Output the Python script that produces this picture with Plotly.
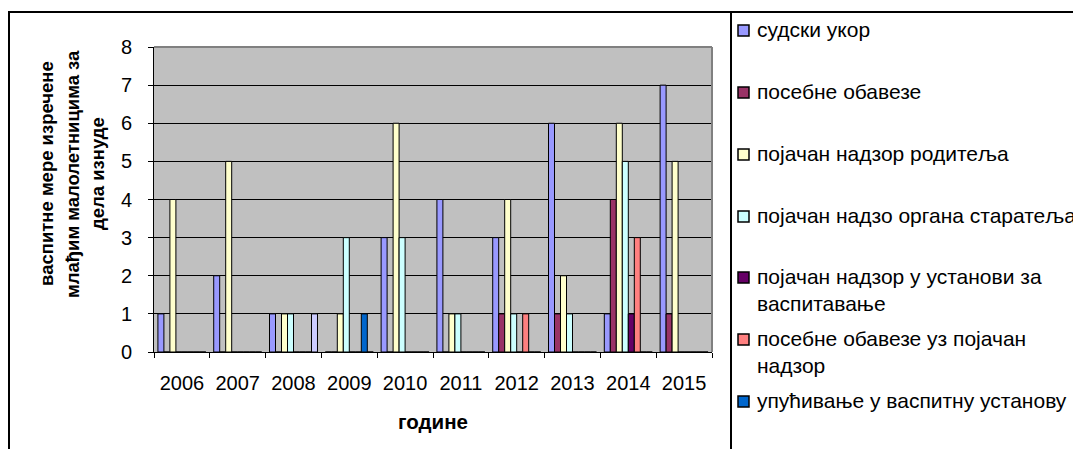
import plotly.graph_objects as go

# page body has a small margin, so the figure is kept a bit smaller than the window
OFF = 8
W, H = 1081 - 2 * OFF, 457 - 2 * OFF

years = ['2006', '2007', '2008', '2009', '2010', '2011', '2012', '2013', '2014', '2015']

sudski_ukor = [1, 2, 1, 0, 3, 4, 3, 6, 1, 7]
posebne_obaveze = [0, 0, 0, 0, 0, 0, 1, 1, 4, 1]
nadzor_roditelja = [4, 5, 1, 1, 6, 1, 4, 2, 6, 5]
nadzor_starateljstva = [0, 0, 1, 3, 3, 1, 1, 1, 5, 0]
nadzor_u_ustanovi = [0, 0, 0, 0, 0, 0, 0, 0, 1, 0]
obaveze_uz_nadzor = [0, 0, 0, 0, 0, 0, 1, 0, 3, 0]
upucivanje_ustanova = [0, 0, 0, 1, 0, 0, 0, 0, 0, 0]
upucivanje_dom = [0, 0, 1, 0, 0, 0, 0, 0, 0, 0]

series_names = [
    'судски укор',
    'посебне обавезе',
    'појачан надзор родитеља',
    'појачан надзо органа старатеља',
    'појачан надзор у установи за васпитавање',
    'посебне обавезе уз појачан надзор',
    'упућивање у васпитну установу',
    'упућивање у васпитно-поправни дом',
]
legend_labels = [
    'судски укор',
    'посебне обавезе',
    'појачан надзор родитеља',
    'појачан надзо органа старатеља',
    'појачан надзор у установи за<br>васпитавање',
    'посебне обавезе уз појачан<br>надзор',
    'упућивање у васпитну установу',
    'упућивање у васпитно-поправни дом',
]
series_values = [sudski_ukor, posebne_obaveze, nadzor_roditelja, nadzor_starateljstva,
                 nadzor_u_ustanovi, obaveze_uz_nadzor, upucivanje_ustanova, upucivanje_dom]
colors = ['#9999FF', '#993366', '#FFFFCC', '#CCFFFF', '#660066', '#FF8080', '#0066CC', '#CCCCFF']

y_title_lines = ['васпитне мере изречене', 'млађим малолетницима за', 'дела изнуде']
x_title = 'године'

FONT = 'Liberation Sans, Arial, sans-serif'


# screen pixel -> paper coordinate
def px(x):
    return (x - OFF) / W


def py(y):
    return 1 - (y - OFF) / H


fig = go.Figure()
for name, vals, col in zip(series_names, series_values, colors):
    fig.add_trace(go.Bar(
        x=years, y=vals, name=name,
        marker=dict(color=col, line=dict(color='black', width=1)),
    ))

# plot area on screen: 154..712 x 47..352 px
x0, x1, y_top, y_bot = 154, 712, 47, 352

fig.update_layout(
    width=W, height=H, autosize=False,
    margin=dict(l=0, r=0, t=0, b=0, pad=0),
    paper_bgcolor='white',
    plot_bgcolor='#C0C0C0',
    barmode='group',
    bargap=0.14,
    bargroupgap=0,
    showlegend=False,
    font=dict(family=FONT, size=20, color='black'),
    xaxis=dict(
        domain=[px(x0), px(x1)],
        type='category',
        automargin=False,
        showgrid=False,
        showline=True, linecolor='black', linewidth=1,
        ticks='outside', ticklen=5, tickcolor='black', tickson='boundaries',
        ticklabelstandoff=13,
        fixedrange=True,
    ),
    yaxis=dict(
        domain=[py(y_bot), py(y_top)],
        range=[0, 8],
        dtick=1,
        automargin=False,
        showgrid=True, gridcolor='black', gridwidth=1,
        showline=True, linecolor='black', linewidth=1,
        ticks='outside', ticklen=5, tickcolor='black',
        ticklabelstandoff=12,
        zeroline=False,
        fixedrange=True,
    ),
)

shapes = [
    # outer chart border
    dict(type='rect', xref='paper', yref='paper', x0=px(9), x1=px(1100), y0=py(480), y1=py(12),
         line=dict(color='black', width=2), fillcolor='rgba(0,0,0,0)', layer='above'),
    # legend box left edge
    dict(type='line', xref='paper', yref='paper', x0=px(731), x1=px(731), y0=py(12), y1=py(480),
         line=dict(color='black', width=2)),
    # grey plot-area frame (top and right)
    dict(type='line', xref='paper', yref='paper', x0=px(x0), x1=px(x1), y0=py(y_top), y1=py(y_top),
         line=dict(color='#808080', width=2), layer='above'),
    dict(type='line', xref='paper', yref='paper', x0=px(x1), x1=px(x1), y0=py(y_top), y1=py(y_bot),
         line=dict(color='#808080', width=2), layer='above'),
]

annotations = []
for line, lx in zip(y_title_lines, [46, 72, 97]):
    annotations.append(dict(text='<b>%s</b>' % line, xref='paper', yref='paper',
                            x=px(lx), y=py(174), xanchor='center', yanchor='middle',
                            textangle=-90, showarrow=False, font=dict(size=18.5)))
annotations.append(dict(text='<b>%s</b>' % x_title, xref='paper', yref='paper',
                        x=px(433), y=py(421), xanchor='center', yanchor='middle',
                        showarrow=False, font=dict(size=20.5)))

# legend drawn by hand (Excel style: even spacing, wrapped labels)
leg_y = [30, 92, 154, 216, 277, 339, 401, 463]
for lbl, col, ly in zip(legend_labels, colors, leg_y):
    shapes.append(dict(type='rect', xref='paper', yref='paper',
                       x0=px(738), x1=px(749), y0=py(ly + 6), y1=py(ly - 5),
                       fillcolor=col, line=dict(color='black', width=1.5)))
    annotations.append(dict(text=lbl, xref='paper', yref='paper', x=px(755), y=py(ly - 14),
                            xanchor='left', yanchor='top', align='left', showarrow=False,
                            font=dict(size=21)))

fig.update_layout(shapes=shapes, annotations=annotations)

fig.write_html("out.html")
